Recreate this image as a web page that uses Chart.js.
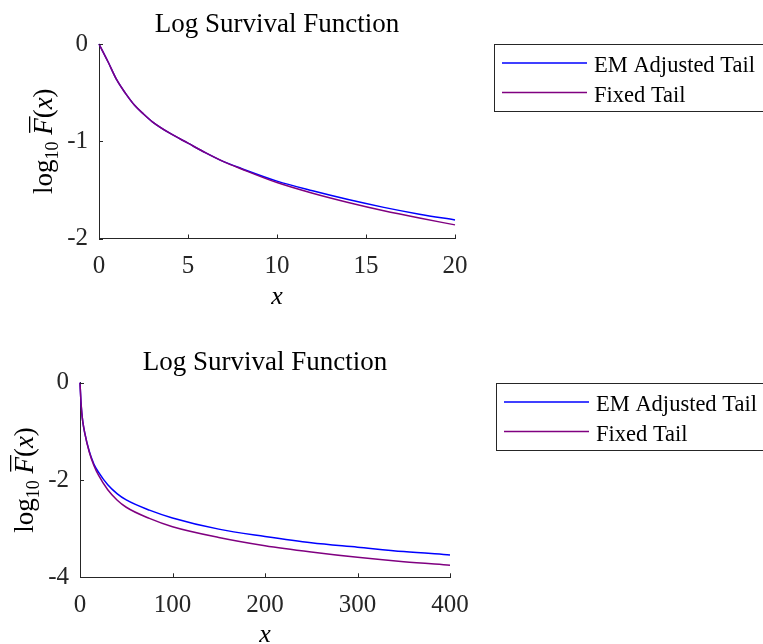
<!DOCTYPE html>
<html>
<head>
<meta charset="utf-8">
<script src="https://cdn.jsdelivr.net/npm/chart.js@4.4.1/dist/chart.umd.min.js"></script>
<style>
  html, body { margin: 0; padding: 0; background: #fff; }
  .panel { position: absolute; left: 0; width: 763px; height: 322px; }
  #top-panel { top: 0; }
  #bottom-panel { top: 322px; }
</style>
</head>
<body>
<div class="panel" id="top-panel"><canvas id="topChart" width="763" height="322"></canvas></div>
<div class="panel" id="bottom-panel"><canvas id="bottomChart" width="763" height="322"></canvas></div>
<script>
// values
const seriesNames = ["EM Adjusted Tail", "Fixed Tail"];
const seriesColors = ["#0000ff", "#800080"];

// upper panel, x in [0, 20]
const topX     = [0, 0.5, 1, 1.5, 2, 2.5, 3, 4, 5, 6, 7, 8, 10, 12, 14, 16, 18, 20];
const topEM    = [0, -0.18, -0.37, -0.51, -0.63, -0.72, -0.80, -0.92, -1.02, -1.12, -1.21, -1.28, -1.41, -1.51, -1.60, -1.68, -1.75, -1.81];
const topFixed = [0, -0.18, -0.37, -0.51, -0.63, -0.72, -0.80, -0.92, -1.02, -1.12, -1.21, -1.285, -1.425, -1.535, -1.63, -1.715, -1.79, -1.86];

// lower panel, x in [0, 400]
const bottomX     = [0, 1, 2, 3, 5, 10, 15, 20, 30, 40, 50, 75, 100, 150, 200, 250, 300, 350, 400];
const bottomEM    = [0, -0.38, -0.63, -0.80, -1.02, -1.41, -1.67, -1.84, -2.10, -2.28, -2.41, -2.62, -2.78, -3.01, -3.16, -3.29, -3.38, -3.47, -3.54];
const bottomFixed = [0, -0.38, -0.63, -0.80, -1.02, -1.425, -1.70, -1.90, -2.20, -2.41, -2.56, -2.79, -2.96, -3.18, -3.35, -3.48, -3.59, -3.68, -3.75];

const topXTicks = { min: 0, max: 20, step: 5 };
const topYTicks = { min: -2, max: 0, step: 1 };
const bottomXTicks = { min: 0, max: 400, step: 100 };
const bottomYTicks = { min: -4, max: 0, step: 2 };

const titleText = "Log Survival Function";
const serif = '"Liberation Serif", "Times New Roman", serif';
const axisColor = "#262626";

function toPoints(xs, ys) {
    return xs.map((x, i) => ({ x: x, y: ys[i] }));
}

// title, axis labels, inward ticks and the boxed legend
const decor = {
    id: "decor",
    afterDraw(chart, args, opts) {
        const ctx = chart.ctx;
        const a = chart.chartArea;
        const xs = chart.scales.x;
        const ys = chart.scales.y;
        ctx.save();

        // MATLAB style ticks pointing into the axes
        ctx.strokeStyle = axisColor;
        ctx.lineWidth = 1;
        ctx.beginPath();
        xs.ticks.forEach(t => {
            const px = Math.round(xs.getPixelForValue(t.value)) + 0.5;
            ctx.moveTo(px, a.bottom);
            ctx.lineTo(px, a.bottom - 4);
        });
        ys.ticks.forEach(t => {
            const py = Math.round(ys.getPixelForValue(t.value)) + 0.5;
            ctx.moveTo(a.left, py);
            ctx.lineTo(a.left + 4, py);
        });
        ctx.stroke();

        // title
        const cx = (a.left + a.right) / 2;
        ctx.fillStyle = "#000";
        ctx.textAlign = "center";
        ctx.textBaseline = "alphabetic";
        ctx.font = "27px " + serif;
        ctx.fillText(titleText, cx, opts.titleY);

        // x label
        ctx.font = "italic 26px " + serif;
        ctx.fillText("x", cx, a.bottom + opts.xLabelDy);

        // y label: log10 F-bar(x), rotated
        ctx.save();
        ctx.translate(opts.yLabelX, (a.top + a.bottom) / 2);
        ctx.rotate(-Math.PI / 2);
        ctx.textAlign = "left";
        const upright = "27px " + serif;
        const italic = "italic 27px " + serif;
        const small = "18px " + serif;
        const parts = [
            { t: "log", f: upright, dy: 0 },
            { t: "10", f: small, dy: 6 },
            { t: " ", f: upright, dy: 0 },
            { t: "F", f: italic, dy: 0, bar: true },
            { t: "(", f: upright, dy: 0 },
            { t: "x", f: italic, dy: 0 },
            { t: ")", f: upright, dy: 0 }
        ];
        let total = 0;
        parts.forEach(p => { ctx.font = p.f; p.w = ctx.measureText(p.t).width; total += p.w; });
        let px = -total / 2;
        const base = 8;
        parts.forEach(p => {
            ctx.font = p.f;
            ctx.fillText(p.t, px, base + p.dy);
            if (p.bar) {
                ctx.fillRect(px + 2, base - 23, p.w, 1.3);
            }
            px += p.w;
        });
        ctx.restore();

        // legend box
        const lx = opts.legendX, ly = opts.legendY;
        ctx.strokeStyle = axisColor;
        ctx.lineWidth = 1;
        ctx.strokeRect(lx + 0.5, ly + 0.5, 400, 67);
        ctx.font = "22.5px " + serif;
        ctx.textAlign = "left";
        seriesNames.forEach((name, i) => {
            const rowY = ly + 19 + i * 29.5;
            ctx.strokeStyle = seriesColors[i];
            ctx.lineWidth = 1.3;
            ctx.beginPath();
            ctx.moveTo(lx + 8, rowY);
            ctx.lineTo(lx + 93, rowY);
            ctx.stroke();
            ctx.fillStyle = "#000";
            ctx.fillText(name, lx + 100, rowY + 9);
        });

        ctx.restore();
    }
};

function makeChart(canvasId, xs, em, fixed, xt, yt, layout) {
    const ctx = document.getElementById(canvasId).getContext("2d");
    return new Chart(ctx, {
        type: "line",
        data: {
            datasets: [
                // purple is drawn over blue, as in the reference
                { label: seriesNames[0], data: toPoints(xs, em), borderColor: seriesColors[0], order: 1 },
                { label: seriesNames[1], data: toPoints(xs, fixed), borderColor: seriesColors[1], order: 0 }
            ]
        },
        options: {
            responsive: false,
            animation: false,
            devicePixelRatio: 1,
            parsing: false,
            datasets: {
                line: {
                    borderWidth: 1.5,
                    pointRadius: 0,
                    cubicInterpolationMode: "monotone",
                    fill: false,
                    clip: false
                }
            },
            layout: {
                padding: {
                    left: 0,
                    top: layout.top,
                    right: 763 - layout.right,
                    bottom: 322 - layout.bottom - 40
                }
            },
            scales: {
                x: {
                    type: "linear",
                    min: xt.min,
                    max: xt.max,
                    afterFit: s => { s.height = 40; },
                    ticks: {
                        stepSize: xt.step,
                        color: axisColor,
                        font: { family: serif, size: 25 },
                        padding: 13,
                        maxRotation: 0,
                        callback: v => String(v)
                    },
                    grid: { display: true, drawOnChartArea: false, drawTicks: false },
                    border: { color: axisColor, width: 1 }
                },
                y: {
                    type: "linear",
                    min: yt.min,
                    max: yt.max,
                    afterFit: s => { s.width = layout.left; },
                    ticks: {
                        stepSize: yt.step,
                        color: axisColor,
                        font: { family: serif, size: 25 },
                        padding: 11,
                        callback: v => String(v)
                    },
                    grid: { display: true, drawOnChartArea: false, drawTicks: false },
                    border: { color: axisColor, width: 1 }
                }
            },
            plugins: {
                legend: { display: false },
                tooltip: { enabled: false },
                title: { display: false },
                decor: layout.decor
            }
        },
        plugins: [decor]
    });
}

makeChart("topChart", topX, topEM, topFixed, topXTicks, topYTicks, {
    left: 99, right: 455, top: 44, bottom: 238.5,
    decor: { titleY: 31.5, xLabelDy: 65, yLabelX: 44, legendX: 494, legendY: 44 }
});

makeChart("bottomChart", bottomX, bottomEM, bottomFixed, bottomXTicks, bottomYTicks, {
    left: 80, right: 450, top: 60.7, bottom: 255.3,
    decor: { titleY: 48, xLabelDy: 65, yLabelX: 25, legendX: 496, legendY: 61 }
});
</script>
</body>
</html>
